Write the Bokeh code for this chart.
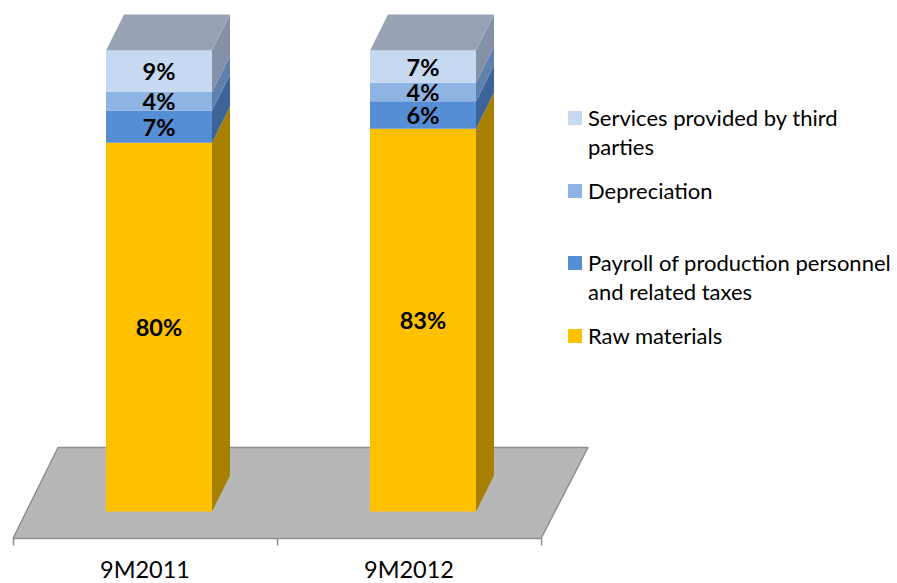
from bokeh.embed import file_html
from bokeh.models import FixedTicker, LinearAxis, Range1d
from bokeh.plotting import figure
from bokeh.resources import INLINE
from bokeh.core.properties import value

# Cost structure, bottom segment first
periods = ["9M2011", "9M2012"]
raw_materials = [80, 83]
payroll = [7, 6]
depreciation = [4, 4]
services = [9, 7]
series_values = [raw_materials, payroll, depreciation, services]

front_colors = ["#ffc000", "#558ed5", "#8eb4e3", "#c6d9f1"]
side_colors = ["#a88000", "#3d6499", "#5f80ad", "#8390a5"]
top_color = "#97a3b5"

legend_rows = [
    (["Services provided by third", "parties"], "#c6d9f1", 118),
    (["Depreciation"], "#8eb4e3", 191),
    (["Payroll of production personnel", "and related taxes"], "#558ed5", 263),
    (["Raw materials"], "#ffc000", 336),
]

WIDTH, HEIGHT = 897, 583
FONT = "Lato"

# One category spans 264 px and one percentage point 4.61 px
PX_PER_CAT = 264.0
PX_PER_PCT = 4.61
X0_PX, Y0_PX = 12.5, 511.0


def ux(px):
    return (px - X0_PX) / PX_PER_CAT


def uy(px):
    return (Y0_PX - px) / PX_PER_PCT


p = figure(
    width=WIDTH, height=HEIGHT,
    x_range=Range1d(ux(0), ux(WIDTH)), y_range=Range1d(uy(HEIGHT), uy(0)),
    output_backend="svg", toolbar_location=None,
    min_border_left=0, min_border_right=0, min_border_top=0, min_border_bottom=0,
    x_axis_location=None, y_axis_location=None,
    background_fill_color="white", border_fill_color="white", outline_line_color=None,
)
p.grid.visible = False

# Floor of the 3D plot area
p.patch(
    [ux(12.5), ux(540.5), ux(587.5), ux(57.5)], [uy(538), uy(538), uy(447), uy(447)],
    fill_color="#b7b7b7", line_color="#8e8e8e", line_width=1.5,
)

# Category axis pinned to the floor's front edge: boundary ticks are minor
# ticks, labels sit mid-band
axis = LinearAxis(
    ticker=FixedTicker(ticks=[0.5, 1.5], minor_ticks=[0, 1, 2]),
    major_label_overrides={0.5: periods[0], 1.5: periods[1]},
    fixed_location=uy(538),
    axis_line_color=None, major_tick_line_color=None,
    minor_tick_line_color="#8e8e8e", minor_tick_line_width=1.5,
    minor_tick_in=0, minor_tick_out=7, major_tick_in=0, major_tick_out=0,
    major_label_standoff=9, major_label_text_font=FONT,
    major_label_text_font_size="23.5px", major_label_text_color="#000000",
)
p.add_layout(axis, "below")

HALF_W = 53 / PX_PER_CAT
DX = 18 / PX_PER_CAT
DY = 36 / PX_PER_PCT
CENTERS = [ux(158.5), ux(422.5)]

for i, cx in enumerate(CENTERS):
    left, right = cx - HALF_W, cx + HALF_W
    base = 0.0
    for k, vals in enumerate(series_values):
        top = base + vals[i]
        # Right side face, then front face
        p.patch(
            [right, right + DX, right + DX, right],
            [base, base + DY, top + DY, top],
            fill_color=side_colors[k], line_color=None,
        )
        p.quad(left=left, right=right, bottom=base, top=top,
               fill_color=front_colors[k], line_color=None)
        p.text(
            [cx], [(base + top) / 2], text=[f"{vals[i]}%"],
            text_font=value(FONT), text_font_style="bold", text_font_size="23.5px",
            text_color="#000000", text_align="center", text_baseline="middle",
        )
        base = top
    # Top face of the column
    p.patch(
        [left, right, right + DX, left + DX],
        [base, base, base + DY, base + DY],
        fill_color=top_color, line_color=None,
    )

# Legend, drawn by hand because its rows are unevenly spaced and wrapped
SWATCH = 14
for lines, color, y_px in legend_rows:
    p.quad(
        left=ux(567.5), right=ux(567.5 + SWATCH),
        bottom=uy(y_px - 0.5 + SWATCH / 2), top=uy(y_px - 0.5 - SWATCH / 2),
        fill_color=color, line_color=None,
    )
    for n, line in enumerate(lines):
        p.text(
            [ux(587.5)], [uy(y_px - 1 + n * 28.5)], text=[line],
            text_font=value(FONT), text_font_size="22px", text_color="#000000",
            text_align="left", text_baseline="middle",
        )

open("out.html", "w").write(file_html(p, INLINE))
